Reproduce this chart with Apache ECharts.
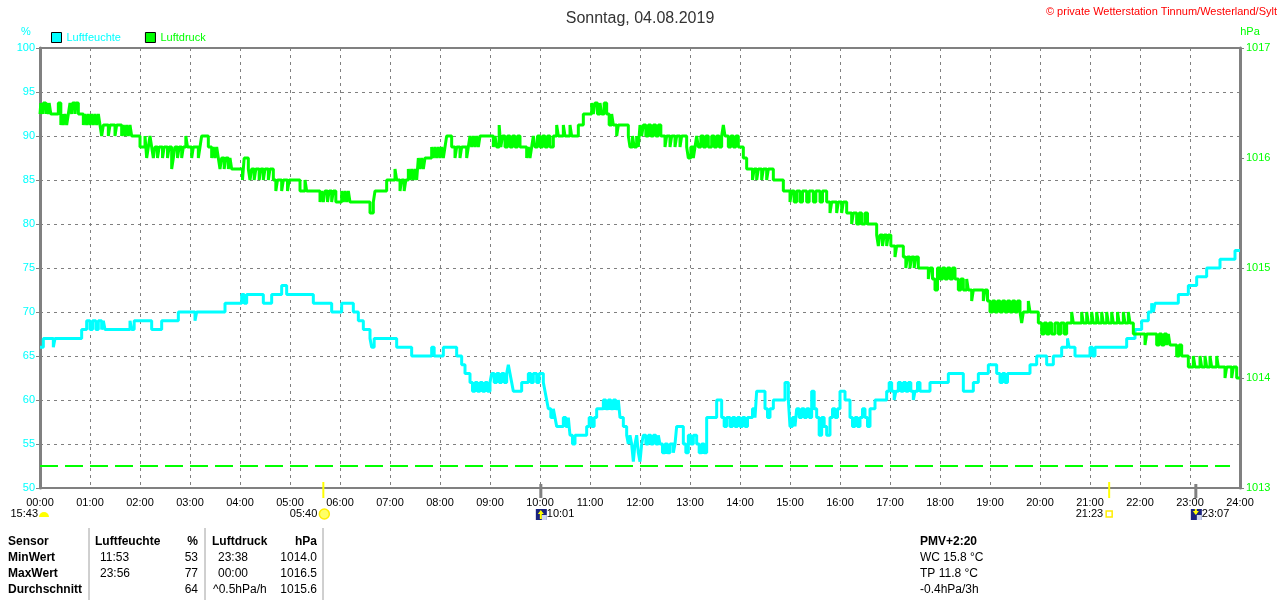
<!DOCTYPE html>
<html><head><meta charset="utf-8">
<script src="https://cdn.jsdelivr.net/npm/echarts@6/dist/echarts.min.js"></script>
<style>html,body{margin:0;padding:0;background:#fff}#c{width:1280px;height:600px}</style>
</head><body><div id="c"></div>
<script>
// ---- data (time in minutes since 00:00, value) ----
const humidity = [
[0,66],[4,67],[16,66],[18,67],[50,68],[56,69],[60,68],[63,69],[67,68],[70,69],[74,68],[76,69],[78,68],
[108,69],[110,68],[113,69],[134,68],[146,69],[166,70],[186,69],[188,70],[222,71],[242,72],[245,71],[248,72],
[268,71],[278,72],[290,73],[296,72],[328,71],[350,70],[362,71],[376,70],[382,69],[388,68],[396,67],[398,66],
[401,67],[428,66],[446,65],[470,66],[473,65],[484,66],[500,65],[506,64],[510,63],[516,62],[519,61],[522,62],
[525,61],[528,62],[531,61],[534,62],[537,61],[540,62],[542,63],[545,62],[548,63],[551,62],[554,63],[557,62],
[560,63],[562,64],[564,63],[566,62],[568,61],[578,62],[586,63],[589,62],[592,63],[596,62],[599,63],[604,62],
[606,61],[608,60],[610,59],[613,58],[616,59],[618,58],[620,57],[628,58],[631,57],[634,58],[636,56],[639,55],
[642,56],[656,57],[659,58],[662,57],[665,58],[668,59],[676,60],[679,59],[682,60],[685,59],[688,60],[691,59],
[694,60],[696,58],[700,57],[704,56],[706,55],[708,56],[710,55],[712,53],[714,55],[716,56],[718,54],[720,53],
[722,55],[724,56],[727,55],[730,56],[733,55],[736,56],[739,55],[742,56],[744,55],[747,54],[750,55],[753,54],
[756,55],[760,54],[762,55],[764,57],[772,55],[775,54],[778,56],[781,55],[784,56],[788,55],[791,54],[794,55],
[797,54],[800,58],[812,60],[818,58],[821,57],[824,58],[828,57],[831,58],[834,57],[837,58],[840,57],[843,58],
[846,57],[849,58],[855,59],[858,58],[860,61],[870,59],[873,58],[876,59],[880,60],[894,62],[898,60],[900,57],
[903,58],[906,57],[908,59],[911,58],[914,59],[917,58],[920,59],[923,58],[926,61],[929,59],[932,58],[935,56],
[938,58],[941,57],[944,56],[948,58],[951,59],[954,58],[957,59],[960,61],[966,60],[972,58],[975,57],[978,58],
[981,57],[984,58],[987,59],[990,58],[993,57],[996,59],[1002,60],[1016,61],[1019,62],[1022,61],[1025,60],
[1027,61],[1030,62],[1033,61],[1036,62],[1039,61],[1042,62],[1045,61],[1048,60],[1050,61],[1053,62],[1056,61],
[1068,62],[1090,63],[1108,61],[1120,62],[1126,63],[1138,64],[1148,63],[1152,62],[1155,63],[1158,62],[1161,63],
[1188,64],[1196,65],[1208,64],[1216,65],[1226,66],[1233,67],[1235,66],[1242,65],[1260,66],[1263,65],[1266,66],
[1304,67],[1314,68],[1322,69],[1330,70],[1334,71],[1336,70],[1338,71],[1366,72],[1378,73],[1388,74],[1400,75],
[1416,76],[1434,77],[1440,77]
];
const pressure = [
[0,1016.4],[1,1016.5],[3,1016.4],[4,1016.5],[7,1016.4],[8,1016.5],[10,1016.4],[11,1016.5],[13,1016.4],[22,1016.5],
[25,1016.3],[27,1016.4],[28,1016.3],[30,1016.4],[32,1016.3],[34,1016.4],[36,1016.5],[38,1016.4],[39,1016.5],[42,1016.4],
[43,1016.5],[46,1016.4],[52,1016.3],[54,1016.4],[56,1016.3],[58,1016.4],[60,1016.3],[62,1016.4],[64,1016.3],[66,1016.4],
[68,1016.3],[70,1016.4],[72,1016.3],[74,1016.2],[76,1016.3],[82,1016.2],[84,1016.3],[90,1016.2],[92,1016.3],[98,1016.2],
[100,1016.3],[102,1016.2],[104,1016.3],[106,1016.2],[108,1016.3],[110,1016.2],[120,1016.1],[126,1016.2],[128,1016.0],
[130,1016.1],[132,1016.2],[134,1016.1],[136,1016.0],[138,1016.1],[141,1016.0],[143,1016.1],[147,1016.0],[149,1016.1],
[153,1016.0],[155,1016.1],[158,1015.9],[160,1016.0],[162,1016.1],[165,1016.0],[167,1016.1],[170,1016.0],[172,1016.1],
[175,1016.2],[177,1016.1],[182,1016.0],[184,1016.1],[190,1016.0],[192,1016.1],[194,1016.2],[202,1016.1],[206,1016.0],
[208,1016.1],[210,1016.0],[212,1016.1],[214,1016.0],[216,1015.9],[218,1016.0],[221,1015.9],[223,1016.0],[226,1015.9],
[228,1016.0],[230,1015.9],[243,1015.8],[245,1016.0],[250,1015.9],[252,1015.8],[254,1015.9],[257,1015.8],[259,1015.9],
[263,1015.8],[265,1015.9],[268,1015.8],[270,1015.9],[274,1015.8],[276,1015.9],[280,1015.8],[283,1015.7],[285,1015.8],
[290,1015.7],[292,1015.8],[297,1015.7],[299,1015.8],[312,1015.7],[318,1015.8],[320,1015.7],[336,1015.6],[338,1015.7],
[340,1015.6],[342,1015.7],[345,1015.6],[347,1015.7],[350,1015.6],[352,1015.7],[355,1015.6],[362,1015.7],[364,1015.6],
[366,1015.7],[368,1015.6],[370,1015.7],[372,1015.6],[396,1015.5],[400,1015.6],[402,1015.7],[416,1015.8],[426,1015.9],
[428,1015.8],[432,1015.7],[434,1015.8],[437,1015.7],[439,1015.8],[442,1015.9],[444,1015.8],[446,1015.9],[448,1015.8],
[450,1015.9],[452,1015.8],[454,1016.0],[456,1015.9],[458,1016.0],[460,1015.9],[462,1016.0],[470,1016.1],[472,1016.0],
[474,1016.1],[476,1016.0],[478,1016.1],[480,1016.0],[482,1016.1],[484,1016.0],[486,1016.1],[488,1016.2],[494,1016.1],
[498,1016.0],[500,1016.1],[504,1016.0],[506,1016.1],[512,1016.0],[514,1016.1],[516,1016.2],[518,1016.1],[520,1016.2],
[522,1016.1],[524,1016.2],[526,1016.1],[528,1016.2],[544,1016.1],[546,1016.2],[548,1016.1],[551,1016.3],[553,1016.1],
[555,1016.2],[558,1016.1],[561,1016.2],[564,1016.1],[567,1016.2],[570,1016.1],[573,1016.2],[576,1016.1],[584,1016.0],
[586,1016.1],[588,1016.0],[590,1016.1],[592,1016.2],[594,1016.1],[597,1016.2],[600,1016.1],[603,1016.2],[606,1016.1],
[609,1016.2],[612,1016.1],[616,1016.2],[620,1016.3],[622,1016.2],[628,1016.3],[630,1016.2],[636,1016.3],[638,1016.2],
[646,1016.3],[652,1016.4],[662,1016.5],[664,1016.4],[666,1016.5],[669,1016.4],[672,1016.5],[674,1016.4],[677,1016.5],
[680,1016.4],[683,1016.3],[686,1016.4],[688,1016.3],[692,1016.2],[694,1016.3],[706,1016.2],[708,1016.1],[711,1016.2],
[713,1016.1],[716,1016.2],[718,1016.1],[720,1016.3],[722,1016.2],[724,1016.3],[727,1016.2],[730,1016.3],[733,1016.2],
[736,1016.3],[739,1016.2],[742,1016.3],[745,1016.2],[750,1016.1],[752,1016.2],[756,1016.1],[758,1016.2],[762,1016.1],
[764,1016.2],[768,1016.1],[770,1016.2],[776,1016.1],[778,1016.0],[781,1016.1],[784,1016.0],[786,1016.1],[788,1016.2],
[790,1016.1],[793,1016.2],[796,1016.1],[799,1016.2],[802,1016.1],[806,1016.2],[809,1016.1],[812,1016.2],[815,1016.1],
[818,1016.2],[820,1016.3],[822,1016.2],[826,1016.1],[829,1016.2],[832,1016.1],[835,1016.2],[838,1016.1],[844,1016.0],
[848,1015.9],[855,1015.8],[857,1015.9],[860,1015.8],[862,1015.9],[866,1015.8],[868,1015.9],[872,1015.8],[874,1015.9],
[880,1015.8],[892,1015.7],[900,1015.6],[902,1015.7],[905,1015.6],[908,1015.7],[912,1015.6],[915,1015.7],[920,1015.6],
[923,1015.7],[928,1015.6],[931,1015.7],[936,1015.6],[939,1015.7],[944,1015.6],[948,1015.5],[950,1015.6],[956,1015.5],
[958,1015.6],[962,1015.5],[964,1015.6],[968,1015.5],[974,1015.4],[976,1015.5],[980,1015.4],[983,1015.5],[986,1015.4],
[990,1015.5],[993,1015.4],[1004,1015.3],[1006,1015.2],[1008,1015.3],[1011,1015.2],[1013,1015.3],[1016,1015.2],
[1018,1015.3],[1021,1015.2],[1026,1015.1],[1028,1015.2],[1036,1015.1],[1039,1015.0],[1041,1015.1],[1044,1015.0],
[1046,1015.1],[1049,1015.0],[1051,1015.1],[1054,1015.0],[1066,1014.9],[1068,1015.0],[1071,1014.9],[1074,1014.8],
[1077,1015.0],[1080,1014.9],[1083,1015.0],[1086,1014.9],[1089,1015.0],[1092,1014.9],[1095,1015.0],[1098,1014.9],
[1102,1014.8],[1105,1014.9],[1108,1014.8],[1112,1014.9],[1114,1014.8],[1118,1014.7],[1120,1014.8],[1132,1014.7],
[1134,1014.8],[1137,1014.7],[1140,1014.6],[1143,1014.7],[1146,1014.6],[1149,1014.7],[1152,1014.6],[1155,1014.7],
[1158,1014.6],[1161,1014.7],[1164,1014.6],[1167,1014.7],[1170,1014.6],[1173,1014.7],[1176,1014.6],[1178,1014.5],
[1180,1014.6],[1186,1014.7],[1188,1014.6],[1198,1014.5],[1202,1014.4],[1205,1014.5],[1208,1014.4],[1211,1014.5],
[1214,1014.4],[1218,1014.5],[1222,1014.4],[1225,1014.5],[1229,1014.4],[1232,1014.5],[1238,1014.6],[1240,1014.5],
[1250,1014.6],[1252,1014.5],[1256,1014.6],[1258,1014.5],[1262,1014.6],[1264,1014.5],[1268,1014.6],[1270,1014.5],
[1274,1014.6],[1276,1014.5],[1280,1014.6],[1282,1014.5],[1286,1014.6],[1288,1014.5],[1293,1014.6],[1295,1014.5],
[1300,1014.6],[1302,1014.5],[1306,1014.6],[1308,1014.5],[1312,1014.4],[1326,1014.3],[1328,1014.4],[1340,1014.3],
[1343,1014.4],[1346,1014.3],[1349,1014.4],[1352,1014.3],[1354,1014.4],[1356,1014.3],[1364,1014.2],[1367,1014.3],
[1370,1014.2],[1378,1014.1],[1384,1014.2],[1386,1014.1],[1392,1014.2],[1394,1014.1],[1398,1014.2],[1400,1014.1],
[1404,1014.2],[1406,1014.1],[1412,1014.2],[1414,1014.1],[1422,1014.0],[1424,1014.1],[1430,1014.0],[1432,1014.1],
[1436,1014.0],[1440,1014.0]
];
const referenceLevel = 1013.2;
const referenceEnd = 1428;
const seriesNames = ['Luftfeuchte', 'Luftdruck'];
const titleText = 'Sonntag, 04.08.2019';
const copyrightText = '\u00A9 private Wetterstation Tinnum/Westerland/Sylt';

const eventTimes = [0, 340, 601, 1283, 1387];
const eventLabels = ['15:43', '05:40', '10:01', '21:23', '23:07'];
const eventKinds = ['moon', 'sunrise', 'moonrise', 'sunset', 'moonset'];

const tableHeader = ['Sensor', 'Luftfeuchte', '%', 'Luftdruck', 'hPa'];
const rowLabels = ['MinWert', 'MaxWert', 'Durchschnitt'];
const humTimes = ['11:53', '23:56', ''];
const humValues = ['53', '77', '64'];
const presTimes = ['23:38', '00:00', '^0.5hPa/h'];
const presValues = ['1014.0', '1016.5', '1015.6'];
const extraInfo = ['PMV+2:20', 'WC 15.8 \u00B0C', 'TP 11.8 \u00B0C', '-0.4hPa/3h'];

// ---- rendering ----
const CYAN = '#00ffff', GREEN = '#00ff00', GRAY = '#808080';
const FONT = '"Liberation Sans", Arial, sans-serif';
const pad = n => (n < 10 ? '0' : '') + n;

function renderEvent(params, api) {
  const i = params.dataIndex;
  const p = api.coord([api.value(0), 50]);
  const x = p[0], y = p[1];
  const kind = eventKinds[i], label = eventLabels[i];
  const ty = y + 26;
  const ch = [];
  const font = '11px ' + FONT;
  if (kind === 'sunrise' || kind === 'sunset') {
    ch.push({type: 'line', shape: {x1: x, y1: y - 6, x2: x, y2: y + 10}, style: {stroke: '#ffff00', lineWidth: 2}});
  }
  if (kind === 'moonrise' || kind === 'moonset') {
    ch.push({type: 'line', shape: {x1: x, y1: y - 4, x2: x, y2: y + 10}, style: {stroke: GRAY, lineWidth: 3}});
  }
  if (kind === 'moon') {
    ch.push({type: 'sector', shape: {cx: x + 4, cy: ty + 3, r: 5, r0: 0, startAngle: Math.PI, endAngle: 2 * Math.PI}, style: {fill: '#ffff00'}});
    ch.push({type: 'text', style: {text: label, x: x - 2, y: ty, align: 'right', verticalAlign: 'middle', font: font, fill: '#000'}});
  } else if (kind === 'sunrise') {
    ch.push({type: 'circle', shape: {cx: x + 1, cy: ty, r: 5}, style: {fill: '#ffff66', stroke: '#ffee00', lineWidth: 1.5}});
    ch.push({type: 'text', style: {text: label, x: x - 6, y: ty, align: 'right', verticalAlign: 'middle', font: font, fill: '#000'}});
  } else if (kind === 'sunset') {
    ch.push({type: 'rect', shape: {x: x - 3, y: ty - 3, width: 6, height: 6}, style: {fill: '#ffffff', stroke: '#ffee00', lineWidth: 1.5}});
    ch.push({type: 'text', style: {text: label, x: x - 6, y: ty, align: 'right', verticalAlign: 'middle', font: font, fill: '#000'}});
  } else {
    ch.push({type: 'rect', shape: {x: x - 5, y: ty - 5, width: 11, height: 11}, style: {fill: '#1a237e'}});
    ch.push({type: 'rect', shape: {x: x + 1, y: ty + 1, width: 5, height: 5}, style: {fill: '#d0d8f0'}});
    const up = kind === 'moonrise';
    ch.push({type: 'polygon', shape: {points: up ? [[x, ty - 4], [x - 3, ty], [x + 3, ty]] : [[x, ty + 1], [x - 3, ty - 3], [x + 3, ty - 3]]}, style: {fill: '#ffff00'}});
    ch.push({type: 'rect', shape: {x: x - 1, y: up ? ty : ty - 5, width: 2, height: 5}, style: {fill: '#ffff00'}});
    ch.push({type: 'text', style: {text: label, x: x + 6, y: ty, align: 'left', verticalAlign: 'middle', font: font, fill: '#000'}});
  }
  return {type: 'group', children: ch};
}

function textEl(text, x, y, opts) {
  return {type: 'text', style: Object.assign({text: text, x: x, y: y, verticalAlign: 'middle', font: '12px ' + FONT, fill: '#000'}, opts || {})};
}

const graphics = [];
graphics.push(textEl('%', 26, 32, {align: 'center', font: '11px ' + FONT, fill: CYAN}));
graphics.push(textEl('hPa', 1250, 32, {align: 'center', font: '11px ' + FONT, fill: GREEN}));
graphics.push(textEl(copyrightText, 1277, 12, {align: 'right', font: '11px ' + FONT, fill: '#ff0000'}));
// table
const rowY = [542, 558, 574, 590];
const bold = 'bold 12px ' + FONT, normal = '12px ' + FONT;
graphics.push(textEl(tableHeader[0], 8, rowY[0], {font: bold}));
graphics.push(textEl(tableHeader[1], 95, rowY[0], {font: bold}));
graphics.push(textEl(tableHeader[2], 198, rowY[0], {font: bold, align: 'right'}));
graphics.push(textEl(tableHeader[3], 212, rowY[0], {font: bold}));
graphics.push(textEl(tableHeader[4], 317, rowY[0], {font: bold, align: 'right'}));
rowLabels.forEach((l, i) => {
  const y = rowY[i + 1];
  graphics.push(textEl(l, 8, y, {font: bold}));
  graphics.push(textEl(humTimes[i], 100, y, {font: normal}));
  graphics.push(textEl(humValues[i], 198, y, {font: normal, align: 'right'}));
  graphics.push(textEl(presTimes[i], i === 2 ? 213 : 218, y, {font: normal}));
  graphics.push(textEl(presValues[i], 317, y, {font: normal, align: 'right'}));
});
[89, 205, 323].forEach(x => graphics.push({type: 'line', shape: {x1: x, y1: 528, x2: x, y2: 600}, style: {stroke: '#a0a0a0', lineWidth: 1}}));
extraInfo.forEach((t, i) => graphics.push(textEl(t, 920, rowY[i], {font: i === 0 ? bold : normal})));

const chart = echarts.init(document.getElementById('c'), null, {renderer: 'canvas'});
chart.setOption({
  animation: false,
  backgroundColor: '#fff',
  title: {text: titleText, left: 'center', top: 6, textStyle: {fontFamily: FONT, fontSize: 16, fontWeight: 'normal', color: '#333'}},
  legend: {
    left: 46, top: 27, itemWidth: 10, itemHeight: 10, itemGap: 24, icon: 'rect',
    itemStyle: {borderColor: '#000', borderWidth: 1},
    data: [
      {name: seriesNames[0], textStyle: {color: CYAN}},
      {name: seriesNames[1], textStyle: {color: GREEN}}
    ],
    textStyle: {fontFamily: FONT, fontSize: 11}
  },
  grid: {left: 40, right: 40, top: 48, bottom: 112, show: true, borderColor: GRAY, borderWidth: 2},
  xAxis: {
    type: 'value', min: 0, max: 1440, interval: 60,
    axisLine: {lineStyle: {color: GRAY, width: 2}},
    axisTick: {show: false},
    axisLabel: {color: '#000', fontFamily: FONT, fontSize: 11, margin: 9, formatter: v => pad(Math.round(v / 60)) + ':00'},
    splitLine: {show: true, lineStyle: {color: GRAY, type: [3, 4], width: 1}}
  },
  yAxis: [
    {
      type: 'value', min: 50, max: 100, interval: 5, position: 'left',
      axisLine: {show: true, lineStyle: {color: GRAY, width: 3}},
      axisTick: {show: true, length: 4, lineStyle: {color: GRAY, width: 1}},
      axisLabel: {color: CYAN, fontFamily: FONT, fontSize: 11, margin: 5, formatter: v => String(v)},
      splitLine: {show: true, lineStyle: {color: GRAY, type: [3, 4], width: 1}}
    },
    {
      type: 'value', min: 1013, max: 1017, interval: 1, position: 'right',
      axisLine: {show: true, lineStyle: {color: GRAY, width: 3}},
      axisTick: {show: true, length: 4, lineStyle: {color: GRAY, width: 1}},
      axisLabel: {color: GREEN, fontFamily: FONT, fontSize: 11, margin: 6, formatter: v => String(v)},
      splitLine: {show: false}
    }
  ],
  series: [
    {
      name: seriesNames[0], type: 'line', step: 'end', yAxisIndex: 0, data: humidity,
      showSymbol: false, color: CYAN, lineStyle: {color: CYAN, width: 3}, z: 3
    },
    {
      name: seriesNames[1], type: 'line', step: 'end', yAxisIndex: 1, data: pressure,
      showSymbol: false, color: GREEN, lineStyle: {color: GREEN, width: 3}, z: 4,
      markLine: {
        silent: true, symbol: 'none', label: {show: false},
        lineStyle: {color: GREEN, type: [18, 7], width: 2},
        data: [[{coord: [0, referenceLevel]}, {coord: [referenceEnd, referenceLevel]}]]
      }
    },
    {
      type: 'custom', renderItem: renderEvent, clip: false, silent: true, z: 10,
      data: eventTimes.map(t => [t, 50])
    }
  ],
  graphic: graphics
});
</script>
</body></html>
